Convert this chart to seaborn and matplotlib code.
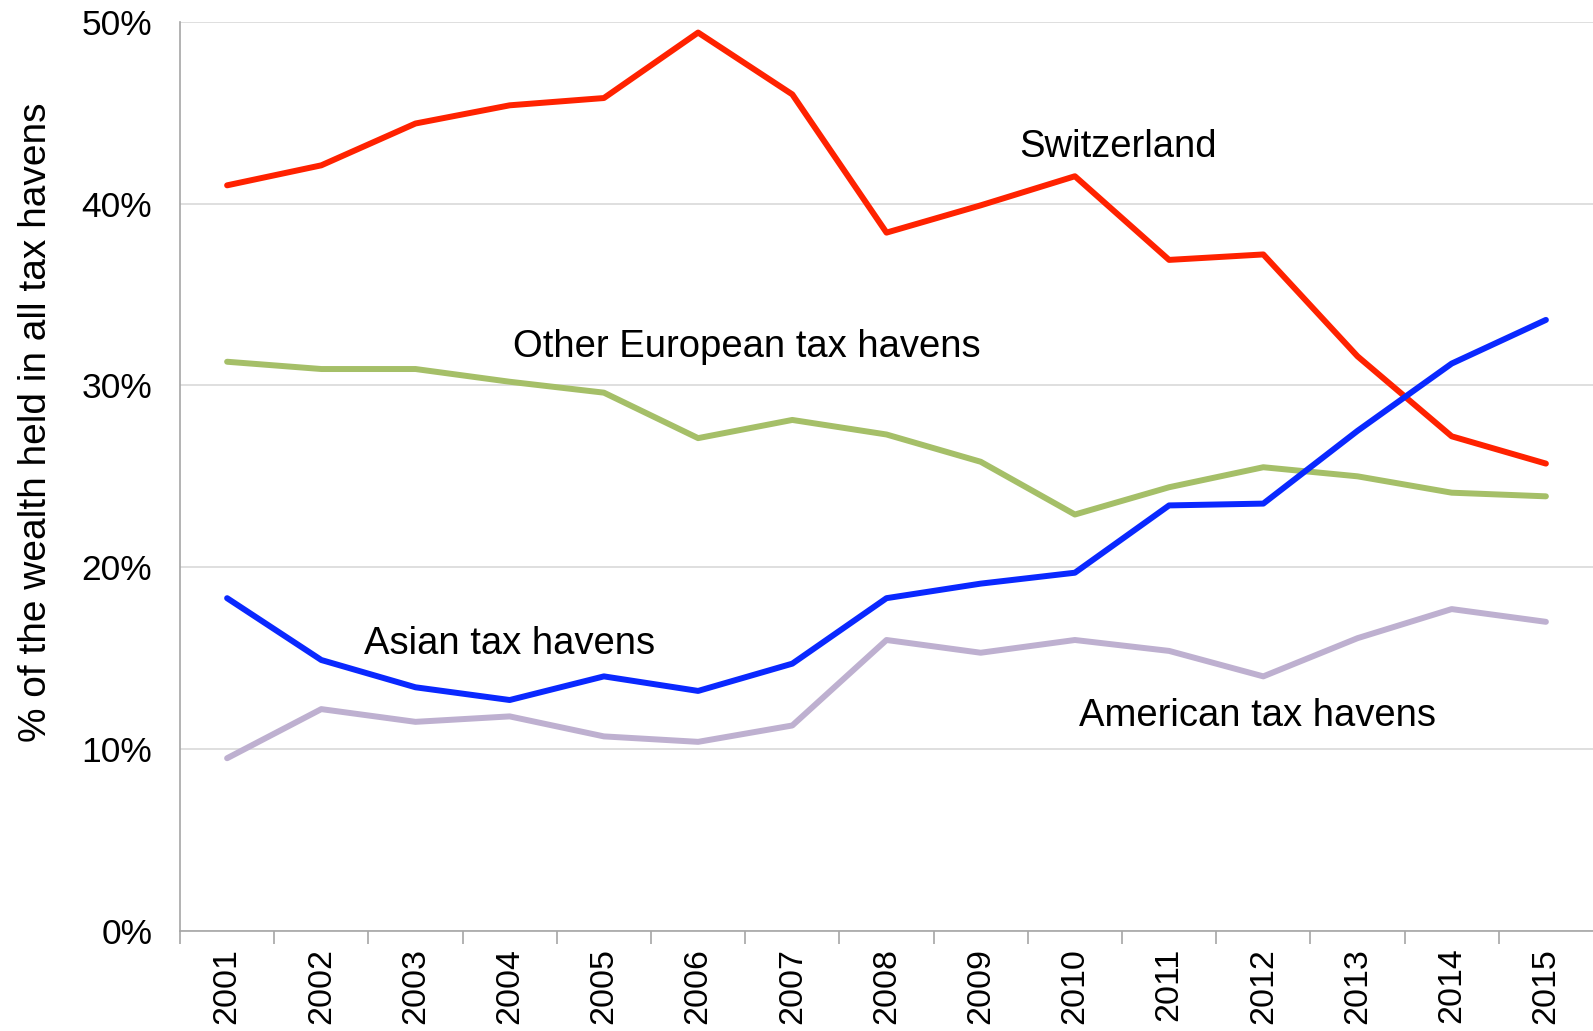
import matplotlib
matplotlib.use("Agg")
import matplotlib.pyplot as plt
import seaborn as sns
import pandas as pd
import numpy as np
from matplotlib.ticker import FuncFormatter, FixedLocator

years = [2001, 2002, 2003, 2004, 2005, 2006, 2007, 2008,
         2009, 2010, 2011, 2012, 2013, 2014, 2015]

switzerland = [41.0, 42.1, 44.4, 45.4, 45.8, 49.4, 46.0, 38.4,
               39.9, 41.5, 36.9, 37.2, 31.6, 27.2, 25.7]
other_europe = [31.3, 30.9, 30.9, 30.2, 29.6, 27.1, 28.1, 27.3,
                25.8, 22.9, 24.4, 25.5, 25.0, 24.1, 23.9]
asia = [18.3, 14.9, 13.4, 12.7, 14.0, 13.2, 14.7, 18.3,
        19.1, 19.7, 23.4, 23.5, 27.5, 31.2, 33.6]
america = [9.5, 12.2, 11.5, 11.8, 10.7, 10.4, 11.3, 16.0,
           15.3, 16.0, 15.4, 14.0, 16.1, 17.7, 17.0]

series_names = ["Switzerland", "Other European tax havens",
                "Asian tax havens", "American tax havens"]
series_colors = ["#FF2200", "#A5BF68", "#0A28FF", "#BEB0D0"]

# label anchors (category index, percent)
label_pos = [(8.41, 43.1), (3.03, 32.1), (1.45, 15.8), (9.04, 11.8)]

df = pd.DataFrame({
    "idx": list(range(len(years))) * 4,
    "value": switzerland + other_europe + asia + america,
    "series": np.repeat(series_names, len(years)),
})

sns.set_style("white")
plt.rcParams["font.family"] = ["Liberation Sans", "DejaVu Sans"]
plt.rcParams["text.color"] = "black"
plt.rcParams["axes.labelcolor"] = "black"
plt.rcParams["xtick.color"] = "black"
plt.rcParams["ytick.color"] = "black"

fig = plt.figure(figsize=(15.93, 10.31), dpi=100)
ax = fig.add_axes([0.113, 0.097, 0.887, 0.882])

sns.lineplot(data=df, x="idx", y="value", hue="series",
             palette=dict(zip(series_names, series_colors)),
             hue_order=series_names, legend=False, ax=ax, zorder=3)
for line in ax.lines:
    line.set_linewidth(4.3)
    line.set_solid_capstyle("round")
    line.set_solid_joinstyle("round")

for name, (lx, ly) in zip(series_names, label_pos):
    ax.text(lx, ly, name, fontsize=27.5, ha="left", va="center", color="black")

ax.set_xlim(-0.5, len(years) - 0.5)
ax.set_ylim(0, 50)
ax.set_yticks([0, 10, 20, 30, 40, 50])
ax.yaxis.set_major_formatter(FuncFormatter(lambda v, p: f"{v:.0f}%"))
ax.grid(axis="y", color="#D9D9D9", linewidth=1.2, zorder=0)
ax.set_axisbelow(True)

ax.set_xticks(range(len(years)))
ax.set_xticklabels([str(y) for y in years], rotation=90)
ax.xaxis.set_minor_locator(FixedLocator(np.arange(-0.5, len(years) - 1, 1.0)))
ax.tick_params(axis="x", which="major", length=0, pad=12, labelsize=24.5,
               labelcolor="black")
ax.tick_params(axis="x", which="minor", length=9, width=1.2, color="#A6A6A6",
               bottom=True)
ax.tick_params(axis="y", length=0, pad=20, labelsize=25.5, labelcolor="black")

ax.set_ylabel("% of the wealth held in all tax havens", fontsize=28,
              color="black")
ax.yaxis.set_label_coords(-0.089, 0.56)
ax.set_xlabel("")

for s in ["top", "right"]:
    ax.spines[s].set_visible(False)
for s in ["left", "bottom"]:
    ax.spines[s].set_color("#A6A6A6")
    ax.spines[s].set_linewidth(1.2)

plt.savefig("out.png", dpi=100)
plt.close()
